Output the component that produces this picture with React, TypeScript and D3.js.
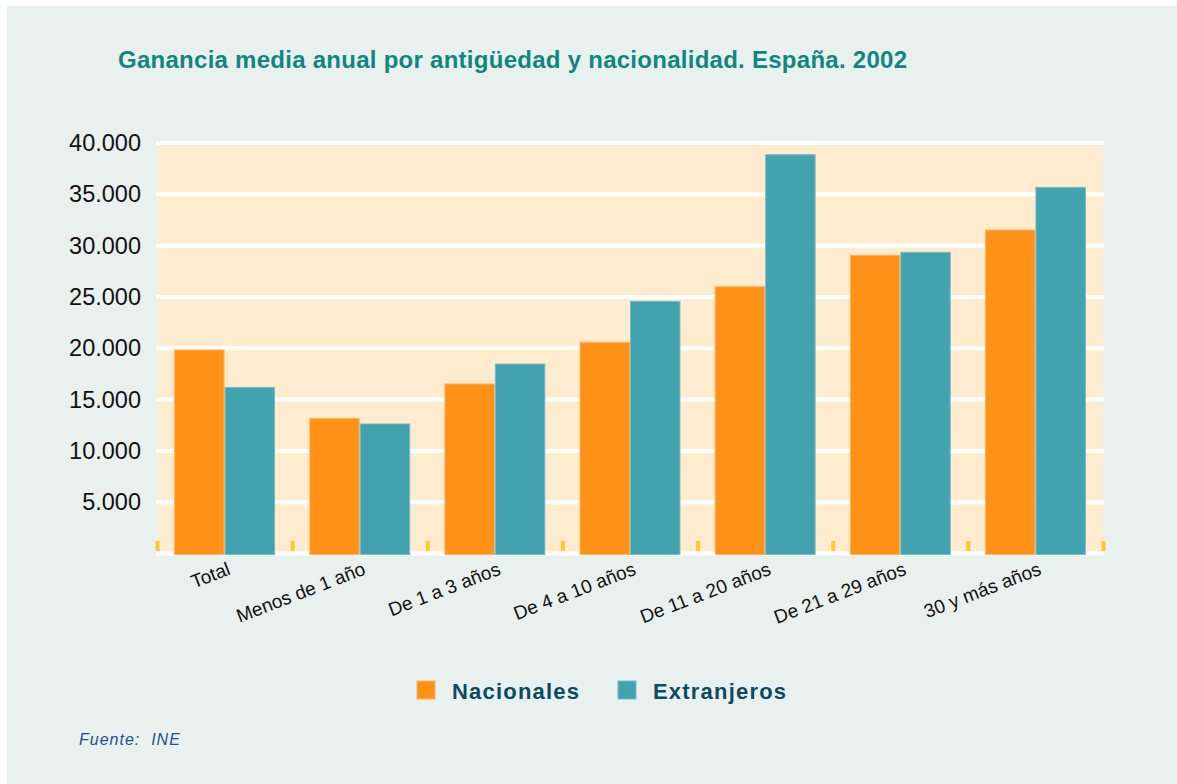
import React from "react";
import * as d3 from "d3";

const categories = [
  "Total",
  "Menos de 1 año",
  "De 1 a 3 años",
  "De 4 a 10 años",
  "De 11 a 20 años",
  "De 21 a 29 años",
  "30 y más años",
];
const nacionales = [19830, 13170, 16520, 20580, 26000, 29060, 31520];
const extranjeros = [16190, 12620, 18460, 24570, 38860, 29350, 35680];
const seriesNames = ["Nacionales", "Extranjeros"];
const seriesColors = ["#ff9117", "#42a2b0"];
const seriesStroke = ["#ffb266", "#74bcc6"];
const yTicks = [0, 5000, 10000, 15000, 20000, 25000, 30000, 35000, 40000];
const yTickLabels = ["", "5.000", "10.000", "15.000", "20.000", "25.000", "30.000", "35.000", "40.000"];

const W = 1177;
const H = 784;
const plotLeft = 157;
const plotRight = 1103;
const plotTop = 143;
const plotBottom = 553.5;

export default function App() {
  const x = d3
    .scaleBand<string>()
    .domain(categories)
    .range([plotLeft, plotRight])
    .paddingInner(0.253)
    .paddingOuter(0.1265);
  const xSub = d3.scaleBand<string>().domain(seriesNames).range([0, x.bandwidth()]);
  const y = d3.scaleLinear().domain([0, 40000]).range([plotBottom, plotTop]);
  const step = (plotRight - plotLeft) / categories.length;
  const data = [nacionales, extranjeros];

  return (
    <svg
      width={W}
      height={H}
      style={{ position: "absolute", left: 0, top: 0, fontFamily: "'Liberation Sans', Arial, sans-serif" }}
    >
      <rect x={0} y={0} width={W} height={H} fill="#ffffff" />
      <rect x={7} y={6} width={W - 7} height={H - 6} fill="#e8f1ee" />
      <text
        x={118}
        y={68}
        fontSize={24}
        fontWeight="bold"
        fill="#118680"
        textLength={789}
        lengthAdjust="spacing"
      >
        Ganancia media anual por antigüedad y nacionalidad. España. 2002
      </text>

      {/* plot background */}
      <rect x={plotLeft + 1} y={y(40000)} width={plotRight - plotLeft - 1} height={plotBottom - y(40000)} fill="#ffecce" />

      {/* gridlines */}
      {yTicks.map((t) => (
        <line key={t} x1={plotLeft - 1} x2={plotRight + 1} y1={y(t)} y2={y(t)} stroke="#ffffff" strokeWidth={4} />
      ))}

      {/* yellow ticks */}
      {d3.range(categories.length + 1).map((i) => (
        <rect key={i} x={plotLeft + step * i - 1.5} y={541} width={4} height={10} fill="#ffc926" />
      ))}

      {/* bars */}
      {categories.map((c, i) => (
        <g key={c}>
          {seriesNames.map((s, j) => (
            <rect
              key={s}
              x={(x(c) as number) + (xSub(s) as number) + 0.5}
              y={y(data[j][i])}
              width={xSub.bandwidth() - 1}
              height={y(0) - y(data[j][i]) + 1}
              fill={seriesColors[j]}
              stroke={seriesStroke[j]}
              strokeWidth={1}
            />
          ))}
        </g>
      ))}

      {/* y labels */}
      {yTicks.map((t, i) =>
        yTickLabels[i] ? (
          <text key={t} x={141} y={y(t) + 8} fontSize={23.5} textAnchor="end" fill="#111111">
            {yTickLabels[i]}
          </text>
        ) : null
      )}

      {/* x labels */}
      {categories.map((c) => {
        const cx = (x(c) as number) + x.bandwidth() / 2 + 7;
        return (
          <text
            key={c}
            transform={`translate(${cx},574) rotate(-21)`}
            textAnchor="end"
            fontSize={19}
            fill="#111111"
          >
            {c}
          </text>
        );
      })}

      {/* legend */}
      {seriesNames.map((s, j) => {
        const lx = [417, 618][j];
        return (
          <g key={s}>
            <rect x={lx} y={681} width={18} height={18} fill={seriesColors[j]} stroke={seriesStroke[j]} strokeWidth={1} />
            <text x={lx + 35} y={699} fontSize={22} fontWeight="bold" fill="#0c4a62" letterSpacing={1.2}>
              {s}
            </text>
          </g>
        );
      })}

      <text x={79} y={745} fontSize={16} fontStyle="italic" fill="#1f4f8c" letterSpacing={1} style={{ whiteSpace: "pre" }}>
        {"Fuente:  INE"}
      </text>
    </svg>
  );
}
